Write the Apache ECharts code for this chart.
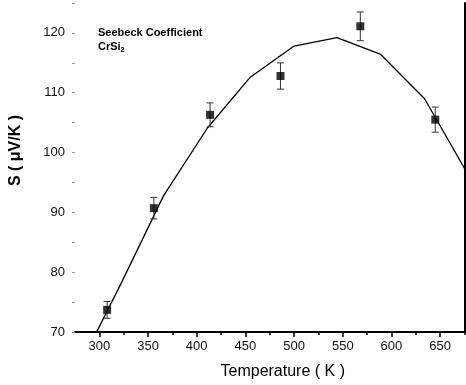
<!DOCTYPE html>
<html>
<head>
<meta charset="utf-8">
<script src="https://cdn.jsdelivr.net/npm/echarts@6/dist/echarts.min.js"></script>
<style>
  html, body { margin: 0; padding: 0; background: #fff; }
  #chart { width: 466px; height: 385px; }
</style>
</head>
<body>
<div id="chart"></div>
<script>
// measured points (temperature K, seebeck uV/K, error half-width)
var measT = [308, 356, 413.7, 486, 568, 645];
var measS = [73.7, 90.7, 106.3, 112.8, 121.1, 105.5];
var measErr = [1.4, 1.8, 2.0, 2.2, 2.4, 2.1];

// calculated curve
var fitT = [277, 322, 366, 411, 455, 500, 544, 589, 634, 678];
var fitS = [63.5, 78, 92.8, 104.1, 112.6, 117.8, 119.2, 116.4, 109, 96.5];

var xMajor = [300, 350, 400, 450, 500, 550, 600, 650];
var xMinor = [325, 375, 425, 475, 525, 575, 625, 675];

var font = 'Liberation Sans, Arial, sans-serif';

var chart = echarts.init(document.getElementById('chart'));

var option = {
  animation: false,
  backgroundColor: '#fff',
  grid: { left: 73, right: 1.5, top: 3, bottom: 52 },
  xAxis: [
    {
      type: 'value', min: 275, max: 675, position: 'bottom',
      axisLine: { show: true, lineStyle: { color: '#000', width: 2 } },
      axisTick: { show: true, customValues: xMajor, length: 5, lineStyle: { color: '#000', width: 1.5 } },
      axisLabel: { customValues: xMajor, margin: 8, fontSize: 13, color: '#111', fontFamily: font },
      splitLine: { show: false },
      name: 'Temperature ( K )', nameLocation: 'middle', nameGap: 32,
      nameTextStyle: { fontSize: 16, color: '#000', fontFamily: font, padding: [0, 0, 0, 26] }
    },
    {
      type: 'value', min: 275, max: 675, position: 'bottom', offset: 0,
      axisLine: { show: false },
      axisTick: { show: true, customValues: xMinor, length: 3, lineStyle: { color: '#000', width: 1.5 } },
      axisLabel: { show: false },
      splitLine: { show: false }
    }
  ],
  yAxis: [
    {
      type: 'value', min: 70, max: 125, interval: 5,
      axisLine: { show: false },
      axisTick: { show: true, length: 3, lineStyle: { color: '#999', width: 1 } },
      axisLabel: {
        margin: 10, fontSize: 13, color: '#111', fontFamily: font,
        formatter: function (v) { return v % 10 === 0 ? String(v) : ''; }
      },
      splitLine: { show: false },
      name: 'S ( \u03bcV/K )', nameLocation: 'middle', nameGap: 51,
      nameTextStyle: { fontSize: 16, fontWeight: 'bold', color: '#000', fontFamily: font, padding: [0, 0, 0, 34] }
    },
    {
      type: 'value', min: 70, max: 125, position: 'right',
      axisLine: { show: true, lineStyle: { color: '#000', width: 2 } },
      axisTick: { show: false },
      axisLabel: { show: false },
      splitLine: { show: false }
    }
  ],
  graphic: [
    {
      type: 'text', left: 98, top: 27,
      style: {
        text: '{b|Seebeck Coefficient}\n{b|CrSi}{s|2}',
        rich: {
          b: { fontSize: 11, fontWeight: 'bold', fontFamily: font, fill: '#000', lineHeight: 14 },
          s: { fontSize: 7, fontWeight: 'bold', fontFamily: font, fill: '#000', verticalAlign: 'bottom', lineHeight: 14, padding: [6, 0, 0, 0] }
        }
      }
    }
  ],
  series: [
    {
      type: 'line',
      data: fitT.map(function (t, i) { return [t, fitS[i]]; }),
      showSymbol: false, symbol: 'none',
      lineStyle: { color: '#000', width: 1.3 },
      clip: true, z: 2
    },
    {
      type: 'custom',
      data: measT.map(function (t, i) { return [t, measS[i], measErr[i]]; }),
      renderItem: function (params, api) {
        var x = api.value(0), y = api.value(1), e = api.value(2);
        var top = api.coord([x, y + e]);
        var bot = api.coord([x, y - e]);
        var w = 3.5;
        var st = { stroke: '#333', lineWidth: 1 };
        return {
          type: 'group',
          children: [
            { type: 'line', shape: { x1: top[0], y1: top[1], x2: bot[0], y2: bot[1] }, style: st },
            { type: 'line', shape: { x1: top[0] - w, y1: top[1], x2: top[0] + w, y2: top[1] }, style: st },
            { type: 'line', shape: { x1: bot[0] - w, y1: bot[1], x2: bot[0] + w, y2: bot[1] }, style: st }
          ]
        };
      },
      z: 3
    },
    {
      type: 'scatter',
      data: measT.map(function (t, i) { return [t, measS[i]]; }),
      symbol: 'rect', symbolSize: 8,
      itemStyle: { color: '#000' },
      z: 4
    }
  ]
};

chart.setOption(option);
</script>
</body>
</html>
